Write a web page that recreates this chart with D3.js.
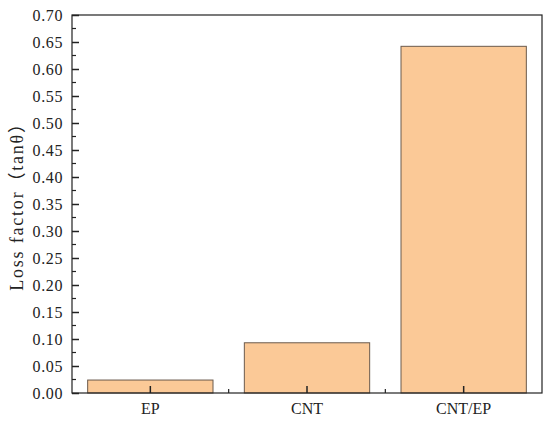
<!DOCTYPE html>
<html>
<head>
<meta charset="utf-8">
<script src="https://cdn.jsdelivr.net/npm/d3@7"></script>
<style>
  body { margin: 0; background: #fff; }
  text { font-family: "Liberation Serif", "Noto Sans CJK SC", serif; fill: #222; }
</style>
</head>
<body>
<div id="chart"></div>
<script>
// data
var categories = ["EP", "CNT", "CNT/EP"];
var lossFactor = [0.024, 0.093, 0.642];
var yTicks = [0, 0.05, 0.10, 0.15, 0.20, 0.25, 0.30, 0.35, 0.40, 0.45, 0.50, 0.55, 0.60, 0.65, 0.70];

var W = 550, H = 423;
var margin = {top: 15, right: 8, bottom: 30, left: 72};
var width = W - margin.left - margin.right,
    height = H - margin.top - margin.bottom;

var svg = d3.select("#chart").append("svg")
    .attr("width", W)
    .attr("height", H);

var g = svg.append("g")
    .attr("transform", "translate(" + margin.left + "," + margin.top + ")");

var x = d3.scaleBand()
    .domain(categories)
    .range([0, width])
    .paddingInner(0.2)
    .paddingOuter(0.1);

var y = d3.scaleLinear()
    .domain([0, 0.70])
    .range([height, 0]);

// bars
g.selectAll(".bar")
    .data(categories)
    .enter().append("rect")
    .attr("class", "bar")
    .attr("x", function(d) { return x(d); })
    .attr("width", x.bandwidth())
    .attr("y", function(d, i) { return y(lossFactor[i]); })
    .attr("height", function(d, i) { return height - y(lossFactor[i]); })
    .style("fill", "#fbc997")
    .style("stroke", "#6b5a4c")
    .style("stroke-width", 1);

// frame
g.append("rect")
    .attr("width", width)
    .attr("height", height)
    .style("fill", "none")
    .style("stroke", "#222")
    .style("stroke-width", 1.2);

// y axis, ticks pointing inside
var yAxis = d3.axisLeft(y)
    .tickValues(yTicks)
    .tickSize(-7)
    .tickPadding(9)
    .tickFormat(d3.format(".2f"));

var ya = g.append("g").attr("class", "y axis").call(yAxis);
ya.select(".domain").remove();
ya.selectAll("line").style("stroke", "#222").style("stroke-width", 1.5);
ya.selectAll("text")
    .style("font-size", "16px")
    .attr("letter-spacing", "0.6px");

// minor y ticks
var yMinor = d3.range(0.025, 0.70, 0.05);
g.append("g").selectAll("line")
    .data(yMinor)
    .enter().append("line")
    .attr("x1", 0).attr("x2", 4)
    .attr("y1", function(d) { return y(d); })
    .attr("y2", function(d) { return y(d); })
    .style("stroke", "#222").style("stroke-width", 1.2);

// x axis
var xAxis = d3.axisBottom(x)
    .tickSize(-7)
    .tickPadding(10);

var xa = g.append("g").attr("class", "x axis")
    .attr("transform", "translate(0," + height + ")")
    .call(xAxis);
xa.select(".domain").remove();
xa.selectAll("line").style("stroke", "#222").style("stroke-width", 1.5);
xa.selectAll("text").style("font-size", "16px");

// minor x ticks at band edges
var edges = categories.slice(1).map(function(d) { return x(d) - x.step() * x.paddingInner() / 2; });
g.append("g").selectAll("line")
    .data(edges)
    .enter().append("line")
    .attr("x1", function(d) { return d; })
    .attr("x2", function(d) { return d; })
    .attr("y1", height).attr("y2", height - 4)
    .style("stroke", "#222").style("stroke-width", 1.2);

// y title
svg.append("text")
    .attr("transform", "translate(23," + (margin.top + height / 2 - 2) + ") rotate(-90)")
    .style("text-anchor", "middle")
    .style("font-size", "18px")
    .attr("letter-spacing", "1.8px")
    .text("Loss factor（tanθ）");
</script>
</body>
</html>
